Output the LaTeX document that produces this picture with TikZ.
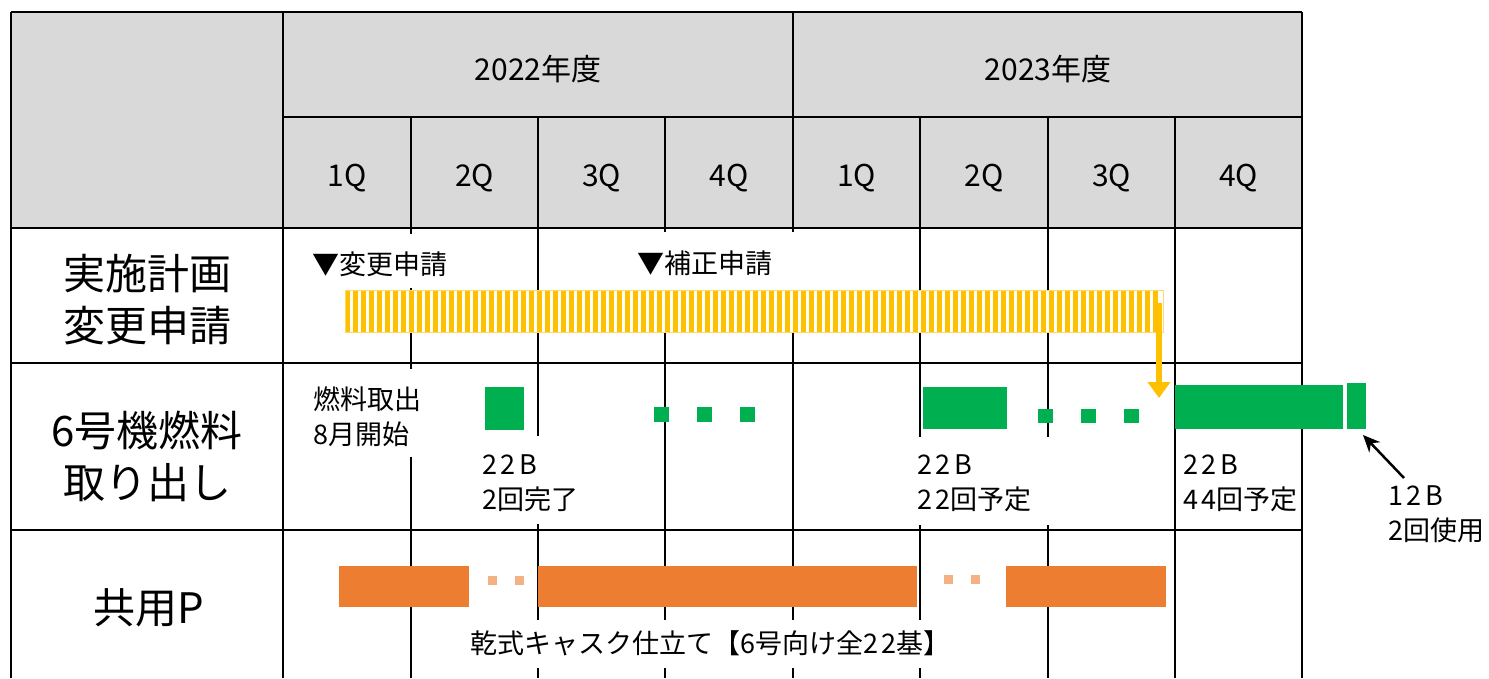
\documentclass[tikz,border=0pt]{standalone}
\usepackage{fontspec}
\setmainfont{Noto Sans CJK JP}
\newcommand\dg[1]{{\addfontfeature{LetterSpace=14}#1}}
\usetikzlibrary{arrows.meta}
\definecolor{hdrgray}{HTML}{D9D9D9}
\definecolor{ylw}{HTML}{FFC000}
\definecolor{grn}{HTML}{00B050}
\definecolor{org}{HTML}{ED7D31}
\definecolor{lorg}{HTML}{F4B183}
\begin{document}
\begin{tikzpicture}[x=1pt,y=-1pt,
  gridline/.style={line width=2.5pt,black},
  hdrtxt/.style={font=\fontsize{30}{36}\selectfont,inner sep=0pt},
  rowlbl/.style={font=\fontsize{42}{52}\selectfont,inner sep=0pt,align=center},
  bodytxt/.style={font=\fontsize{27}{35}\selectfont,inner sep=0pt,align=left,anchor=west},
  gbar/.style={fill=grn},
  obar/.style={fill=org},
  odot/.style={fill=lorg}]
\useasboundingbox (0,0) rectangle (1489,678);
% header background
\fill[hdrgray] (11,12) rectangle (1302,228);
% horizontal lines
\draw[gridline] (11,12) -- (1302,12);
\draw[gridline] (283,117) -- (1302,117);
\foreach \y in {228,363,530} \draw[gridline] (11,\y) -- (1302,\y);
% vertical lines
\draw[gridline] (11,12) -- (11,678);
\draw[gridline] (283,12) -- (283,678);
\draw[gridline] (1302,12) -- (1302,678);
\draw[gridline] (411,117) -- (411,234) (411,288) -- (411,369) (411,457) -- (411,678);
\draw[gridline] (538,117) -- (538,436) (538,524) -- (538,620) (538,668) -- (538,678);
\draw[gridline] (665,117) -- (665,232) (665,291) -- (665,620) (665,668) -- (665,678);
\draw[gridline] (793,12) -- (793,232) (793,291) -- (793,620) (793,668) -- (793,678);
\draw[gridline] (920,117) -- (920,437) (920,525) -- (920,620) (920,668) -- (920,678);
\draw[gridline] (1048,117) -- (1048,437) (1048,525) -- (1048,678);
\draw[gridline] (1175,117) -- (1175,678);
% header texts
\node[hdrtxt] (y2022) at (538,69) {2022年度};
\node[hdrtxt] (y2023) at (1048,69) {2023年度};
\node[hdrtxt] (q1) at (347,178) {1Q};
\node[hdrtxt] (q2) at (474.5,178) {2Q};
\node[hdrtxt] (q3) at (601.5,178) {3Q};
\node[hdrtxt] (q4) at (729,178) {4Q};
\node[hdrtxt] (q5) at (856.5,178) {1Q};
\node[hdrtxt] (q6) at (984,178) {2Q};
\node[hdrtxt] (q7) at (1111.5,178) {3Q};
\node[hdrtxt] (q8) at (1238.5,178) {4Q};
% row labels
\node[rowlbl] (r1) at (147,300) {実施計画\\変更申請};
\node[rowlbl] (r2) at (147,456) {6号機燃料\\取り出し};
\node[rowlbl] (r3) at (149,608) {共用P};
% row 1
\node[bodytxt] (t1) at (312,264) {▼変更申請};
\node[bodytxt] (t2) at (637,263) {▼補正申請};
\fill[white] (345,290) rectangle (1163,332);
\foreach \i in {0,...,101} \fill[ylw] (345+8*\i,290) rectangle ++(5,42);
\draw[ylw!60,line width=1pt] (345,290) rectangle (1163,332);
\coordinate (ya0) at (1159,303);
\coordinate (ya1) at (1159,398);
\draw[ylw,line width=6pt,-{Triangle[width=22pt,length=16pt]}] (ya0) -- (ya1);
% row 2
\node[bodytxt] (t3) at (313,416.5) {燃料取出\\\dg{8}月開始};
\fill[gbar] (485,387) rectangle (524,430);
\foreach \x in {654,697,740} \fill[gbar] (\x,407) rectangle ++(15,15);
\fill[gbar] (923,387) rectangle (1007,429);
\foreach \x in {1038,1081,1124} \fill[gbar] (\x,409) rectangle ++(15,14);
\fill[gbar] (1175,385) rectangle (1343,429);
\fill[gbar] (1347,383) rectangle (1366,429);
\node[bodytxt] (t4) at (482,483.5) {\dg{22B}\\\dg{2}回完了};
\node[bodytxt] (t5) at (917,483.5) {\dg{22B}\\\dg{22}回予定};
\node[bodytxt] (t6) at (1183,483.5) {\dg{22B}\\\dg{44}回予定};
\node[bodytxt] (t7) at (1388,514.5) {\dg{12B}\\\dg{2}回使用};
\coordinate (ba0) at (1404,478);
\coordinate (ba1) at (1363,435);
\draw[black,line width=2.5pt,-{Stealth[length=17pt,width=15pt]}] (ba0) -- (ba1);
% row 3
\fill[obar] (339,566) rectangle (469,607);
\foreach \x in {488,515} \fill[odot] (\x,576) rectangle ++(9,9);
\fill[obar] (538,566) rectangle (917,607);
\foreach \x in {944,971} \fill[odot] (\x,575) rectangle ++(9,9);
\fill[obar] (1006,566) rectangle (1166,607);
\node[bodytxt] (t8) at (470,643) {乾式キャスク仕立て【\dg{6}号向け全\dg{22}基】};
\end{tikzpicture}
\end{document}
